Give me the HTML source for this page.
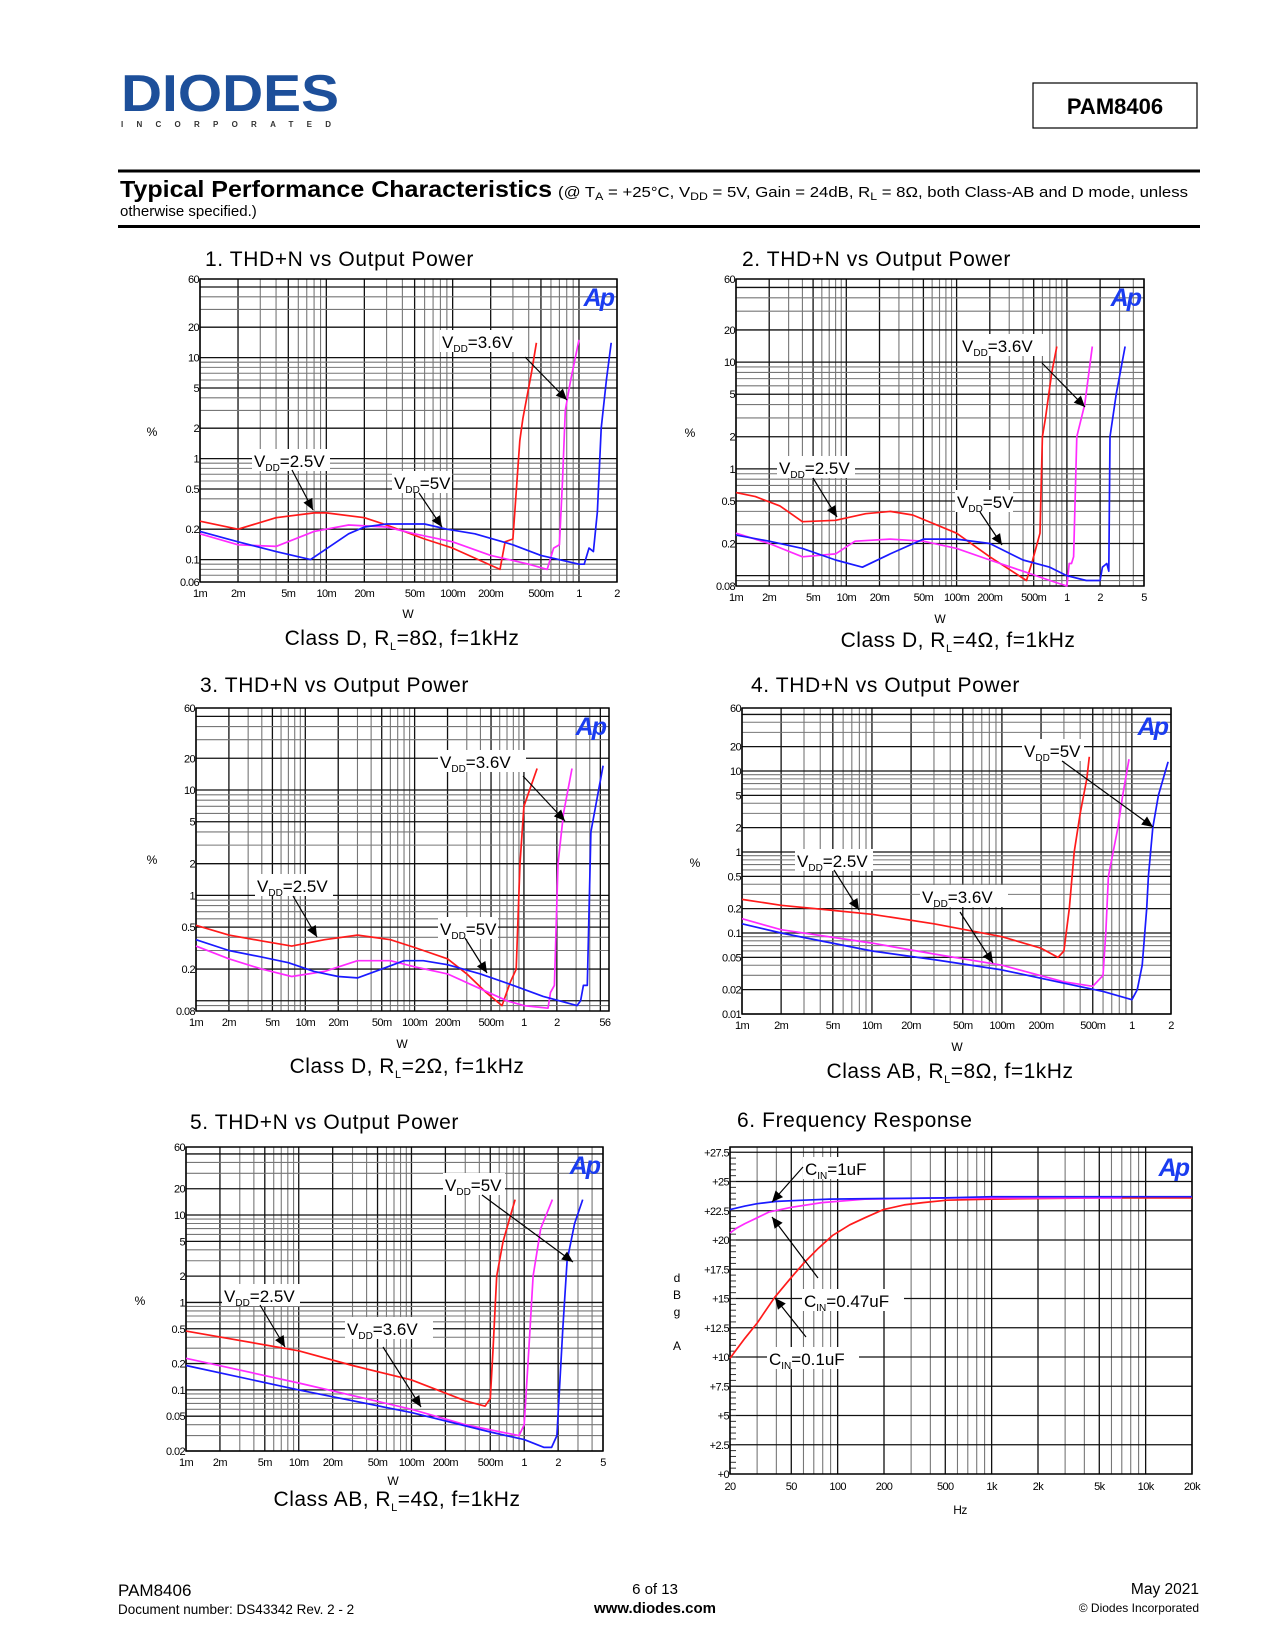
<!DOCTYPE html>
<html><head><meta charset="utf-8"><title>PAM8406 Typical Performance Characteristics</title>
<style>
html,body{margin:0;padding:0;background:#fff;}
svg{display:block;font-family:"Liberation Sans",Arial,sans-serif;}
</style></head>
<body>
<svg id="page" width="1275" height="1650" viewBox="0 0 1275 1650" xmlns="http://www.w3.org/2000/svg">
<rect x="0" y="0" width="1275" height="1650" fill="#fff"/>
<g>
  <text x="121" y="111" font-size="52" font-weight="bold" fill="#1d4f9a" textLength="218" lengthAdjust="spacingAndGlyphs">DIODES</text>
  <text x="121" y="127" font-size="8" font-weight="bold" fill="#333" textLength="210" lengthAdjust="spacing">INCORPORATED</text>
  <rect x="1033" y="83" width="164" height="45" fill="none" stroke="#000" stroke-width="1.2"/>
  <text x="1115" y="114" font-size="22" font-weight="bold" text-anchor="middle">PAM8406</text>
  <rect x="118" y="169.5" width="1082" height="3" fill="#000"/>
  <text x="120" y="197" font-size="23" font-weight="bold" textLength="432" lengthAdjust="spacingAndGlyphs">Typical Performance Characteristics</text>
  <text x="558" y="197" font-size="15" textLength="630" lengthAdjust="spacingAndGlyphs">(@ T<tspan font-size="11" dy="3">A</tspan><tspan dy="-3"> = +25°C, V</tspan><tspan font-size="11" dy="3">DD</tspan><tspan dy="-3"> = 5V, Gain = 24dB, R</tspan><tspan font-size="11" dy="3">L</tspan><tspan dy="-3"> = 8Ω, both Class-AB and D mode, unless</tspan></text>
  <text x="120" y="216" font-size="15">otherwise specified.)</text>
  <rect x="118" y="225" width="1082" height="3" fill="#000"/>
</g>
<g id="charts"></g>
<g>
  <text x="118" y="1596" font-size="17">PAM8406</text>
  <text x="118" y="1614" font-size="13.5">Document number: DS43342 Rev. 2 - 2</text>
  <text x="655" y="1594" font-size="15" text-anchor="middle">6 of 13</text>
  <text x="655" y="1613" font-size="15" font-weight="bold" text-anchor="middle">www.diodes.com</text>
  <text x="1199" y="1594" font-size="15.5" text-anchor="end">May 2021</text>
  <text x="1199" y="1612" font-size="12" text-anchor="end">© Diodes Incorporated</text>
</g>
</svg>
<script>
// ---------- Chart 1 data (Class D, 8 ohm) ----------
const c1RedW = [0.001,0.002,0.004,0.008,0.01,0.02,0.03,0.06,0.1,0.237,0.26,0.3,0.34,0.36,0.42,0.46];
const c1RedPct = [0.24,0.2,0.26,0.29,0.29,0.26,0.22,0.16,0.13,0.08,0.15,0.16,1.5,2.5,7,14];
const c1MagW = [0.001,0.002,0.004,0.008,0.015,0.03,0.05,0.1,0.2,0.4,0.56,0.63,0.7,0.74,0.78,0.86,1.0];
const c1MagPct = [0.18,0.14,0.135,0.19,0.22,0.21,0.18,0.15,0.11,0.09,0.08,0.13,0.14,0.6,3,6,15];
const c1BluW = [0.001,0.002,0.004,0.0075,0.015,0.02,0.03,0.06,0.09,0.15,0.3,0.5,1.0,1.1,1.2,1.3,1.4,1.5,1.65,1.8];
const c1BluPct = [0.19,0.15,0.12,0.1,0.18,0.21,0.225,0.225,0.2,0.18,0.14,0.11,0.09,0.09,0.13,0.12,0.3,2,6,14];
// ---------- Chart 2 data (Class D, 4 ohm) ----------
const c2RedW = [0.001,0.0015,0.0025,0.004,0.008,0.015,0.025,0.04,0.1,0.2,0.43,0.49,0.57,0.6,0.64,0.73,0.81];
const c2RedPct = [0.6,0.55,0.45,0.32,0.33,0.38,0.4,0.37,0.25,0.15,0.09,0.14,0.25,2,3,8,14];
const c2MagW = [0.001,0.002,0.004,0.008,0.012,0.025,0.05,0.1,0.2,0.4,0.7,1.0,1.05,1.1,1.15,1.23,1.45,1.7];
const c2MagPct = [0.25,0.2,0.15,0.16,0.21,0.22,0.21,0.18,0.14,0.11,0.09,0.08,0.13,0.13,0.15,2,4,14];
const c2BluW = [0.001,0.002,0.004,0.008,0.014,0.025,0.05,0.1,0.2,0.4,0.7,1.0,1.5,2.0,2.1,2.3,2.4,2.46,2.8,3.37];
const c2BluPct = [0.24,0.21,0.18,0.14,0.12,0.16,0.22,0.22,0.2,0.14,0.12,0.1,0.09,0.09,0.12,0.13,0.11,2,5,14];
// ---------- Chart 3 data (Class D, 2 ohm) ----------
const c3RedW = [0.001,0.002,0.004,0.0075,0.015,0.03,0.06,0.1,0.2,0.3,0.45,0.63,0.75,0.85,0.92,1.0,1.32];
const c3RedPct = [0.52,0.42,0.37,0.33,0.38,0.42,0.38,0.32,0.25,0.18,0.12,0.09,0.15,0.2,2,7,16];
const c3MagW = [0.001,0.002,0.004,0.0075,0.015,0.03,0.06,0.1,0.2,0.4,0.7,1.0,1.66,1.75,1.9,2.05,2.3,2.75];
const c3MagPct = [0.33,0.25,0.2,0.17,0.19,0.24,0.24,0.21,0.18,0.13,0.1,0.09,0.085,0.12,0.14,2,6,16];
const c3BluW = [0.001,0.002,0.004,0.007,0.012,0.02,0.03,0.05,0.08,0.12,0.2,0.4,0.8,1.5,3.06,3.3,3.5,3.8,4.1,5.3];
const c3BluPct = [0.38,0.3,0.26,0.23,0.19,0.17,0.165,0.2,0.24,0.24,0.22,0.18,0.14,0.11,0.09,0.1,0.14,0.14,4,17];
// ---------- Chart 4 data (Class AB, 8 ohm) ----------
const c4RedW = [0.001,0.002,0.005,0.01,0.03,0.1,0.2,0.27,0.3,0.33,0.36,0.4,0.45,0.47];
const c4RedPct = [0.26,0.22,0.19,0.17,0.13,0.09,0.065,0.05,0.06,0.2,1,3,8,15];
const c4MagW = [0.001,0.002,0.01,0.03,0.1,0.3,0.5,0.6,0.63,0.66,0.78,0.85,0.95];
const c4MagPct = [0.15,0.11,0.075,0.055,0.04,0.025,0.022,0.03,0.1,0.5,2,5,14];
const c4BluW = [0.001,0.002,0.01,0.03,0.1,0.3,0.6,1.0,1.1,1.2,1.3,1.34,1.45,1.6,1.9];
const c4BluPct = [0.13,0.1,0.06,0.047,0.035,0.024,0.019,0.015,0.02,0.04,0.2,0.5,2,5,13];
// ---------- Chart 5 data (Class AB, 4 ohm) ----------
const c5RedW = [0.001,0.01,0.03,0.1,0.3,0.45,0.5,0.53,0.57,0.65,0.83];
const c5RedPct = [0.47,0.28,0.19,0.13,0.075,0.065,0.08,0.3,2,5,15];
const c5MagW = [0.001,0.01,0.1,0.3,0.9,1.0,1.1,1.2,1.4,1.78];
const c5MagPct = [0.23,0.12,0.06,0.04,0.03,0.04,0.3,2,7,15];
const c5BluW = [0.001,0.01,0.1,0.5,1.0,1.5,1.75,1.95,2.2,2.4,2.8,3.3];
const c5BluPct = [0.19,0.1,0.055,0.033,0.027,0.022,0.022,0.03,0.5,3,8,15];
// ---------- Chart 6 data (Frequency response) ----------
const c6BluHz = [20,25,30,40,60,89,200,500,1000,5000,20000];
const c6BluDb = [22.6,22.9,23.1,23.3,23.4,23.5,23.55,23.6,23.7,23.7,23.7];
const c6MagHz = [20,22,25,30,36,50,79,150,500,2000,7000];
const c6MagDb = [20.6,21.0,21.4,21.9,22.4,22.8,23.2,23.5,23.6,23.6,23.6];
const c6RedHz = [20,25,30,39,50,60,75,93,120,150,198,270,358,513,1000,5000,20000];
const c6RedDb = [9.9,11.6,12.9,15.1,16.8,18.0,19.3,20.4,21.3,21.9,22.6,23.0,23.2,23.4,23.5,23.6,23.6];
// ---------- Tick labels ----------
const ticksX1 = [0.001,0.002,0.005,0.01,0.02,0.05,0.1,0.2,0.5,1,2];
const labelsX1 = ["1m","2m","5m","10m","20m","50m","100m","200m","500m","1","2"];
const ticksX2 = [0.001,0.002,0.005,0.01,0.02,0.05,0.1,0.2,0.5,1,2,5];
const labelsX2 = ["1m","2m","5m","10m","20m","50m","100m","200m","500m","1","2","5"];
const ticksX3 = [0.001,0.002,0.005,0.01,0.02,0.05,0.1,0.2,0.5,1,2,5.5];
const labelsX3 = ["1m","2m","5m","10m","20m","50m","100m","200m","500m","1","2","56"];
const ticksY1 = [60,20,10,5,2,1,0.5,0.2,0.1,0.06];
const labelsY1 = ["60","20","10","5","2","1","0.5","0.2","0.1","0.06"];
const ticksY2 = [60,20,10,5,2,1,0.5,0.2,0.08];
const labelsY2 = ["60","20","10","5","2","1","0.5","0.2","0.08"];
const ticksY4 = [60,20,10,5,2,1,0.5,0.2,0.1,0.05,0.02,0.01];
const labelsY4 = ["60","20","10","5","2","1","0.5","0.2","0.1","0.05","0.02","0.01"];
const ticksY5 = [60,20,10,5,2,1,0.5,0.2,0.1,0.05,0.02];
const labelsY5 = ["60","20","10","5","2","1","0.5","0.2","0.1","0.05","0.02"];
const ticksHz = [20,50,100,200,500,1000,2000,5000,10000,20000];
const labelsHz = ["20","50","100","200","500","1k","2k","5k","10k","20k"];
const ticksDb = [27.5,25,22.5,20,17.5,15,12.5,10,7.5,5,2.5,0];
const labelsDb = ["+27.5","+25","+22.5","+20","+17.5","+15","+12.5","+10","+7.5","+5","+2.5","+0"];

const NS = "http://www.w3.org/2000/svg";
const root = document.getElementById("charts");
function el(tag, attrs, parent) {
  const e = document.createElementNS(NS, tag);
  for (const k in attrs) e.setAttribute(k, attrs[k]);
  (parent || root).appendChild(e);
  return e;
}
function logScale(lo, hi, a, b) {
  const l0 = Math.log10(lo), l1 = Math.log10(hi);
  return v => a + (Math.log10(v) - l0) / (l1 - l0) * (b - a);
}
function linScale(lo, hi, a, b) { return v => a + (v - lo) / (hi - lo) * (b - a); }

function logGrid(g, lo, hi, fn, vertical, L, R, T, B) {
  for (let d = Math.floor(Math.log10(lo)); d <= Math.ceil(Math.log10(hi)); d++) {
    for (let m = 1; m <= 9; m++) {
      const v = m * Math.pow(10, d);
      if (v < lo * 0.999 || v > hi * 1.001) continue;
      const p = fn(v);
      const dark = (m === 1 || m === 2 || m === 5);
      const ln = vertical ? el("line", {x1:p, x2:p, y1:T, y2:B}, g) : el("line", {x1:L, x2:R, y1:p, y2:p}, g);
      ln.setAttribute("stroke", dark ? "#111" : "#777");
      ln.setAttribute("stroke-width", dark ? "1.3" : "1.1");
      
      
    }
  }
}
function txt(g, x, y, s, size, anchor, extra) {
  const t = el("text", Object.assign({x:x, y:y, "font-size":size, "text-anchor":anchor || "start"}, extra || {}), g);
  t.textContent = s;
  return t;
}
function series(g, xs, ys, sx, sy, color, name) {
  const pts = xs.map((x, i) => sx(x).toFixed(1) + "," + sy(ys[i]).toFixed(1)).join(" ");
  const p = el("polyline", {points: pts, fill: "none", stroke: color, "stroke-width": 1.7, "stroke-linejoin": "round"}, g);
  
  
}
function vddLabel(g, x, y, w, h, sub, rest, pre, name) {
  const r = el("rect", {x:x, y:y, width:w, height:h, fill:"#fff"}, g);
  
  
  const t = el("text", {x:x + 2, y:y + h - 4, "font-size":17}, g);
  
  
  const a = el("tspan", {}, t); a.textContent = pre;
  const b = el("tspan", {"font-size":10, dy:4}, t); b.textContent = sub;
  const c = el("tspan", {dy:-4}, t); c.textContent = rest;
}
function arrow(g, x1, y1, x2, y2, name) {
  const ln = el("line", {x1:x1, y1:y1, x2:x2, y2:y2, stroke:"#000", "stroke-width":1.2}, g);
  
  
  const ang = Math.atan2(y2 - y1, x2 - x1), L = 11, W = 5;
  const bx = x2 - L * Math.cos(ang), by = y2 - L * Math.sin(ang);
  const px = -Math.sin(ang) * W, py = Math.cos(ang) * W;
  const h = el("polygon", {points: `${x2},${y2} ${bx+px},${by+py} ${bx-px},${by-py}`, fill:"#000"}, g);
  
  
}

function thdChart(cfg) {
  const g = el("g", {});
  
  
  const {L, R, T, B} = cfg;
  const sx = logScale(cfg.xLo, cfg.xHi, L, R);
  const sy = logScale(cfg.yLo, cfg.yHi, B, T);
  const grid = el("g", {}, g);
  
  
  logGrid(grid, cfg.xLo, cfg.xHi, sx, true, L, R, T, B);
  logGrid(grid, cfg.yLo, cfg.yHi, sy, false, L, R, T, B);
  const fr = el("rect", {x:L, y:T, width:R-L, height:B-T, fill:"none", stroke:"#000", "stroke-width":1.5}, g);
  
  
  cfg.xt.forEach((v, i) => {
    const t = txt(g, sx(v), B + 15, cfg.xl[i], 11, "middle", {"letter-spacing":"-0.6"});
    
    
  });
  cfg.yt.forEach((v, i) => {
    const t = txt(g, L - 1, sy(v) + 4, cfg.yl[i], 11, "end", {"letter-spacing":"-0.6"});
    
    
  });
  const ap = txt(g, R - 4, T + 27, "Ap", 25, "end", {"font-weight":"bold", "font-style":"italic", fill:"#1a3cf0", "letter-spacing":"-2"});
  
  
  const ti = txt(g, cfg.tx, cfg.ty, cfg.title, 21, "start", {"letter-spacing":"0.6"});
  
  
  const yu = txt(g, cfg.px, cfg.py, "%", 12, "middle");
  
  
  const xu = txt(g, cfg.wx, cfg.wy, "W", 12, "middle");
  
  
  const cap = el("text", {x:cfg.cx, y:cfg.cy, "font-size":21, "text-anchor":"middle", "letter-spacing":"0.5"}, g);
  
  
  const c1 = el("tspan", {}, cap); c1.textContent = cfg.cap[0] + ", R";
  const c2 = el("tspan", {"font-size":11, dy:5}, cap); c2.textContent = "L";
  const c3 = el("tspan", {dy:-5}, cap); c3.textContent = "=" + cfg.cap[1] + ", f=1kHz";
  series(g, cfg.red[0], cfg.red[1], sx, sy, "#ff1a1a", "series-vdd-2-5v");
  series(g, cfg.mag[0], cfg.mag[1], sx, sy, "#ff2bff", "series-vdd-3-6v");
  series(g, cfg.blu[0], cfg.blu[1], sx, sy, "#1a1aff", "series-vdd-5v");
  cfg.labels.forEach(lb => {
    vddLabel(g, lb[0], lb[1], lb[2], 22, "DD", lb[3], "V", lb[4]);
    arrow(g, lb[5], lb[6], lb[7], lb[8], lb[4] + '-arrow');
  });
}

thdChart({name:"chart-1-thd-class-d-8ohm", L:200, R:617, T:279, B:582, xLo:0.001, xHi:2, yLo:0.06, yHi:60,
  xt:ticksX1, xl:labelsX1, yt:ticksY1, yl:labelsY1,
  title:"1. THD+N vs Output Power", tx:205, ty:266, px:152, py:436, wx:408, wy:618, cx:402, cy:645, cap:["Class D","8Ω"],
  red:[c1RedW,c1RedPct], mag:[c1MagW,c1MagPct], blu:[c1BluW,c1BluPct],
  labels:[[440,330,88,"=3.6V","label-vdd-3-6v",525,357,567,400],[252,449,78,"=2.5V","label-vdd-2-5v",292,470,313,510],[392,471,60,"=5V","label-vdd-5v",419,493,442,527]]});
thdChart({name:"chart-2-thd-class-d-4ohm", L:736, R:1144, T:279, B:586, xLo:0.001, xHi:5, yLo:0.08, yHi:60,
  xt:ticksX2, xl:labelsX2, yt:ticksY2, yl:labelsY2,
  title:"2. THD+N vs Output Power", tx:742, ty:266, px:690, py:437, wx:940, wy:623, cx:958, cy:647, cap:["Class D","4Ω"],
  red:[c2RedW,c2RedPct], mag:[c2MagW,c2MagPct], blu:[c2BluW,c2BluPct],
  labels:[[960,334,88,"=3.6V","label-vdd-3-6v",1042,363,1085,407],[777,456,78,"=2.5V","label-vdd-2-5v",813,478,837,517],[955,490,58,"=5V","label-vdd-5v",980,512,1002,545]]});
thdChart({name:"chart-3-thd-class-d-2ohm", L:196, R:609, T:708, B:1011, xLo:0.001, xHi:6, yLo:0.08, yHi:60,
  xt:ticksX3, xl:labelsX3, yt:ticksY2, yl:labelsY2,
  title:"3. THD+N vs Output Power", tx:200, ty:692, px:152, py:864, wx:402, wy:1048, cx:407, cy:1073, cap:["Class D","2Ω"],
  red:[c3RedW,c3RedPct], mag:[c3MagW,c3MagPct], blu:[c3BluW,c3BluPct],
  labels:[[438,750,88,"=3.6V","label-vdd-3-6v",523,776,565,821],[255,874,78,"=2.5V","label-vdd-2-5v",293,896,317,937],[438,917,60,"=5V","label-vdd-5v",465,938,487,973]]});
thdChart({name:"chart-4-thd-class-ab-8ohm", L:742, R:1171, T:708, B:1014, xLo:0.001, xHi:2, yLo:0.01, yHi:60,
  xt:ticksX1, xl:labelsX1, yt:ticksY4, yl:labelsY4,
  title:"4. THD+N vs Output Power", tx:751, ty:692, px:695, py:867, wx:957, wy:1051, cx:950, cy:1078, cap:["Class AB","8Ω"],
  red:[c4RedW,c4RedPct], mag:[c4MagW,c4MagPct], blu:[c4BluW,c4BluPct],
  labels:[[1022,739,62,"=5V","label-vdd-5v",1062,761,1153,827],[795,849,78,"=2.5V","label-vdd-2-5v",834,870,859,910],[920,885,88,"=3.6V","label-vdd-3-6v",960,912,993,963]]});
thdChart({name:"chart-5-thd-class-ab-4ohm", L:186, R:603, T:1147, B:1451, xLo:0.001, xHi:5, yLo:0.02, yHi:60,
  xt:ticksX2, xl:labelsX2, yt:ticksY5, yl:labelsY5,
  title:"5. THD+N vs Output Power", tx:190, ty:1129, px:140, py:1305, wx:393, wy:1485, cx:397, cy:1506, cap:["Class AB","4Ω"],
  red:[c5RedW,c5RedPct], mag:[c5MagW,c5MagPct], blu:[c5BluW,c5BluPct],
  labels:[[443,1173,62,"=5V","label-vdd-5v",482,1195,573,1262],[222,1284,78,"=2.5V","label-vdd-2-5v",260,1305,285,1347],[345,1317,88,"=3.6V","label-vdd-3-6v",383,1347,421,1407]]});

// ---------- Chart 6: Frequency response ----------
(function(){
  const g = el("g", {});
  
  
  const L = 730, R = 1192, T = 1147, B = 1474;
  const sx = logScale(20, 20000, L, R);
  const sy = linScale(0, 27.95, B, T);
  const grid = el("g", {}, g);
  
  
  logGrid(grid, 20, 20000, sx, true, L, R, T, B);
  for (let v = 2.5; v <= 27.5; v += 2.5) {
    const ln = el("line", {x1:L, x2:R, y1:sy(v), y2:sy(v), stroke:"#111", "stroke-width":1.3}, grid);
    
    
  }
  for (let v = 0; v <= 27.5; v += 0.5) {
    const tk = el("line", {x1:L, x2:L + 6, y1:sy(v), y2:sy(v), stroke:"#333", "stroke-width":1}, grid);
    
    
  }
  const fr = el("rect", {x:L, y:T, width:R-L, height:B-T, fill:"none", stroke:"#000", "stroke-width":1.5}, g);
  
  
  ticksHz.forEach((v, i) => {
    const t = txt(g, sx(v), B + 16, labelsHz[i], 11, "middle", {"letter-spacing":"-0.6"});
    
    
  });
  ticksDb.forEach((v, i) => {
    const t = txt(g, L - 1, sy(v) + 4, labelsDb[i], 11, "end", {"letter-spacing":"-0.6"});
    
    
  });
  const ap = txt(g, R - 4, T + 29, "Ap", 25, "end", {"font-weight":"bold", "font-style":"italic", fill:"#1a3cf0", "letter-spacing":"-2"});
  
  
  const ti = txt(g, 737, 1127, "6. Frequency Response", 21, "start", {"letter-spacing":"0.6"});
  
  
  [["d",1282],["B",1299],["g",1316],["A",1350]].forEach(a => {
    const t = txt(g, 677, a[1], a[0], 12, "middle");
    
    
  });
  const hz = txt(g, 960, 1514, "Hz", 12, "middle", {"letter-spacing":"-0.6"});
  
  
  series(g, c6RedHz, c6RedDb, sx, sy, "#ff1a1a", "series-cin-0-1uf");
  series(g, c6MagHz, c6MagDb, sx, sy, "#ff2bff", "series-cin-0-47uf");
  series(g, c6BluHz, c6BluDb, sx, sy, "#1a1aff", "series-cin-1uf");
  const labs = [[803,1157,74,"=1uF","label-cin-1uf",803,1167,772,1202],
                [802,1289,102,"=0.47uF","label-cin-0-47uf",818,1278,772,1217],
                [767,1347,92,"=0.1uF","label-cin-0-1uf",806,1337,775,1298]];
  labs.forEach(lb => {
    vddLabel(g, lb[0], lb[1], lb[2], 22, "IN", lb[3], "C", lb[4]);
    arrow(g, lb[5], lb[6], lb[7], lb[8], lb[4] + '-arrow');
  });
})();
</script>
</body></html>
